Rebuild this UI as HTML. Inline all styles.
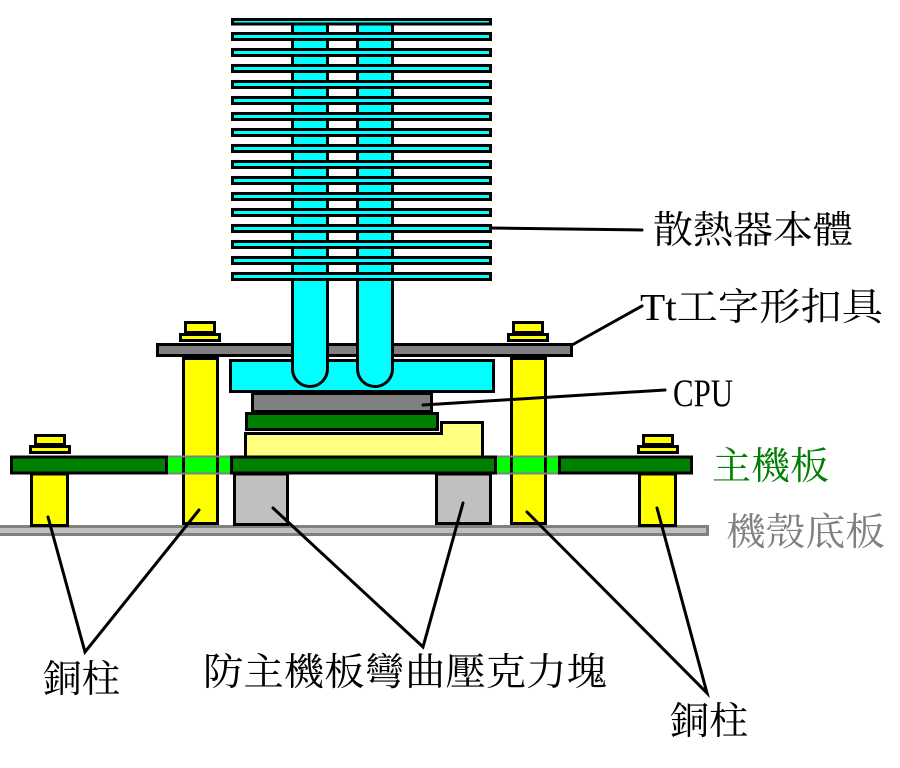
<!DOCTYPE html>
<html><head><meta charset="utf-8"><style>
html,body{margin:0;padding:0;background:#fff;}
svg{display:block;}
text{font-family:"Liberation Serif","Noto Serif CJK SC",serif;}
</style></head><body>
<svg width="900" height="768" viewBox="0 0 900 768" xmlns="http://www.w3.org/2000/svg">
<rect x="0" y="0" width="900" height="768" fill="#fff"/>
<!-- chassis -->
<rect x="-5" y="526.5" width="712.5" height="8" fill="#C0C0C0" stroke="#808080" stroke-width="3"/>
<!-- gray plate -->
<rect x="157.5" y="344.5" width="414" height="11" fill="#808080" stroke="#000" stroke-width="3"/>
<!-- nuts tall -->
<rect x="185.5" y="322.5" width="29" height="10" fill="#FFFF00" stroke="#000" stroke-width="3"/>
<rect x="180.5" y="334.5" width="39" height="6" fill="#FFFF00" stroke="#000" stroke-width="3"/>
<rect x="513.5" y="322.5" width="29" height="10" fill="#FFFF00" stroke="#000" stroke-width="3"/>
<rect x="508.5" y="334.5" width="39" height="6" fill="#FFFF00" stroke="#000" stroke-width="3"/>
<!-- nuts short -->
<rect x="35.5" y="435.5" width="29" height="9" fill="#FFFF00" stroke="#000" stroke-width="3"/>
<rect x="30.5" y="446.5" width="39" height="6" fill="#FFFF00" stroke="#000" stroke-width="3"/>
<rect x="643.5" y="435.5" width="29" height="9" fill="#FFFF00" stroke="#000" stroke-width="3"/>
<rect x="638.5" y="446.5" width="39" height="6" fill="#FFFF00" stroke="#000" stroke-width="3"/>
<!-- tall pillars -->
<rect x="183.5" y="358.5" width="34" height="165" fill="#FFFF00" stroke="#000" stroke-width="3"/>
<rect x="511.5" y="358.5" width="34" height="165" fill="#FFFF00" stroke="#000" stroke-width="3"/>
<!-- short pillars -->
<rect x="31.5" y="474" width="36" height="51.5" fill="#FFFF00" stroke="#000" stroke-width="3"/>
<rect x="639.5" y="474" width="36" height="51.5" fill="#FFFF00" stroke="#000" stroke-width="3"/>
<!-- gray blocks -->
<rect x="234.5" y="474" width="53" height="50.5" fill="#C0C0C0" stroke="#000" stroke-width="3"/>
<rect x="436.5" y="474" width="54" height="49.5" fill="#C0C0C0" stroke="#000" stroke-width="3"/>
<!-- socket -->
<path d="M245.5,433.5 H441.5 V422.5 H482.5 V458 H245.5 Z" fill="#FFFF80" stroke="#000" stroke-width="3"/>
<!-- motherboard -->
<rect x="11.5" y="457" width="155" height="16" fill="#008000" stroke="#000" stroke-width="3"/>
<rect x="231.5" y="457" width="264" height="16" fill="#008000" stroke="#000" stroke-width="3"/>
<rect x="559.5" y="457" width="132" height="16" fill="#008000" stroke="#000" stroke-width="3"/>
<!-- holes -->
<rect x="168" y="457.5" width="62" height="15" fill="#00FF00"/>
<rect x="168" y="455.5" width="62" height="2" fill="#808080"/>
<rect x="168" y="472.5" width="62" height="2" fill="#808080"/>
<rect x="182" y="457.5" width="3" height="15" fill="#000"/>
<rect x="216" y="457.5" width="3" height="15" fill="#000"/>
<rect x="497" y="457.5" width="61" height="15" fill="#00FF00"/>
<rect x="497" y="455.5" width="61" height="2" fill="#808080"/>
<rect x="497" y="472.5" width="61" height="2" fill="#808080"/>
<rect x="510" y="457.5" width="3" height="15" fill="#000"/>
<rect x="544" y="457.5" width="3" height="15" fill="#000"/>
<!-- CPU green -->
<rect x="246.5" y="413.5" width="191" height="16" fill="#008000" stroke="#000" stroke-width="3"/>
<!-- CPU gray -->
<rect x="252.5" y="393.5" width="179" height="18" fill="#808080" stroke="#000" stroke-width="3"/>
<!-- cyan block -->
<rect x="230.5" y="360.5" width="263" height="31" fill="#00FFFF" stroke="#000" stroke-width="3"/>
<!-- pipes -->
<path d="M292.5,20 V369 A17.5,17.5 0 0 0 327.5,369 V20" fill="#00FFFF" stroke="#000" stroke-width="3"/>
<path d="M357.5,20 V369 A17.5,17.5 0 0 0 392.5,369 V20" fill="#00FFFF" stroke="#000" stroke-width="3"/>
<!-- fins -->
<g fill="#00FFFF" stroke="#000" stroke-width="3">
<rect x="232.5" y="19.5" width="258" height="4.5"/>
<rect x="232.5" y="33.5" width="258" height="6"/>
<rect x="232.5" y="49.5" width="258" height="6"/>
<rect x="232.5" y="65.5" width="258" height="6"/>
<rect x="232.5" y="81.5" width="258" height="6"/>
<rect x="232.5" y="97.5" width="258" height="6"/>
<rect x="232.5" y="113.5" width="258" height="6"/>
<rect x="232.5" y="129.5" width="258" height="6"/>
<rect x="232.5" y="145.5" width="258" height="6"/>
<rect x="232.5" y="161.5" width="258" height="6"/>
<rect x="232.5" y="177.5" width="258" height="6"/>
<rect x="232.5" y="193.5" width="258" height="6"/>
<rect x="232.5" y="209.5" width="258" height="6"/>
<rect x="232.5" y="225.5" width="258" height="6"/>
<rect x="232.5" y="241.5" width="258" height="6"/>
<rect x="232.5" y="257.5" width="258" height="6"/>
<rect x="232.5" y="273.5" width="258" height="6"/>
</g>
<!-- connector lines -->
<g stroke="#000" stroke-width="3" fill="none" stroke-linecap="round">
<line x1="492" y1="228" x2="642" y2="230"/>
<line x1="572" y1="345" x2="642" y2="306"/>
<line x1="423" y1="405" x2="665" y2="390"/>
<polyline points="48,517 85,652 199,510"/>
<polyline points="273,508 423,647 463,503"/>
<polyline points="527,512 707,693 657,508"/>
</g>
<!-- labels -->
<text x="653" y="243" font-size="38" textLength="200" lengthAdjust="spacingAndGlyphs" fill="#000">散熱器本體</text>
<text x="640" y="320" font-size="38" textLength="243" lengthAdjust="spacingAndGlyphs" fill="#000">Tt工字形扣具</text>
<text x="673" y="406" font-size="39" textLength="60" lengthAdjust="spacingAndGlyphs" fill="#000">CPU</text>
<text x="712" y="479" font-size="38" textLength="117" lengthAdjust="spacingAndGlyphs" fill="#008000">主機板</text>
<text x="726" y="545" font-size="38" textLength="159" lengthAdjust="spacingAndGlyphs" fill="#808080">機殼底板</text>
<text x="43" y="692" font-size="38" textLength="77" lengthAdjust="spacingAndGlyphs" fill="#000">銅柱</text>
<text x="203" y="685" font-size="38" textLength="404" lengthAdjust="spacingAndGlyphs" fill="#000">防主機板彎曲壓克力塊</text>
<text x="670" y="734" font-size="38" textLength="78" lengthAdjust="spacingAndGlyphs" fill="#000">銅柱</text>
</svg>
</body></html>
